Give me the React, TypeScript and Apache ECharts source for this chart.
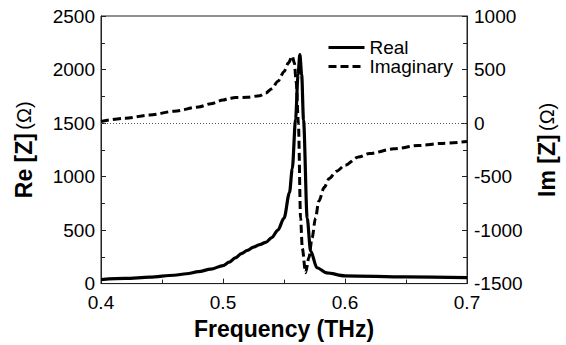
import React, { useEffect, useRef } from "react";
import * as echarts from "echarts";

const realFreq = [0.40, 0.42, 0.44, 0.46, 0.47, 0.48, 0.49, 0.50, 0.505, 0.51, 0.515, 0.52, 0.525, 0.53, 0.535, 0.54, 0.545, 0.55, 0.5545, 0.5568, 0.5595, 0.5615, 0.563, 0.5645, 0.566, 0.569, 0.5718, 0.577, 0.585, 0.60, 0.65, 0.70];
const realValues = [38, 48, 60, 78, 92, 112, 135, 168, 200, 240, 280, 310, 340, 365, 385, 430, 500, 611, 850, 1074, 1537, 1950, 2140, 1950, 1530, 611, 306, 148, 100, 72, 62, 56];

const imagFreq = [0.40, 0.42, 0.44, 0.46, 0.48, 0.49, 0.50, 0.505, 0.51, 0.52, 0.53, 0.535, 0.54, 0.545, 0.55, 0.5535, 0.5568, 0.5585, 0.560, 0.5618, 0.5636, 0.565, 0.5677, 0.5704, 0.573, 0.5758, 0.5785, 0.583, 0.587, 0.593, 0.60, 0.611, 0.62, 0.64, 0.66, 0.68, 0.70];
const imagValues = [15, 45, 75, 110, 150, 180, 215, 230, 238, 240, 255, 280, 320, 390, 480, 560, 625, 560, 380, 0, -890, -1170, -1398, -1259, -1074, -889, -731, -600, -519, -450, -395, -318, -285, -241, -210, -190, -173];

const xTicks = { min: 0.4, max: 0.7, interval: 0.1 };
const reTicks = { min: 0, max: 2500, interval: 500 };
const imTicks = { min: -1500, max: 1000, interval: 500 };

const FONT = "'Liberation Sans', Arial, sans-serif";
const AXIS_COLOR = "#222";

export default function App() {
  const ref = useRef<HTMLDivElement>(null);
  useEffect(() => {
    if (!ref.current) return;
    const chart = echarts.init(ref.current, undefined, { renderer: "svg" });
    const axisCommon = {
      axisLine: { show: true, lineStyle: { color: AXIS_COLOR, width: 1 } },
      axisTick: { show: true, inside: true, length: 5, lineStyle: { color: AXIS_COLOR } },
      minorTick: { show: true, splitNumber: 2, length: 4, lineStyle: { color: AXIS_COLOR } },
      splitLine: { show: false },
    };
    const plain = (v: number) => String(v);
    chart.setOption({
      animation: false,
      backgroundColor: "#fff",
      textStyle: { fontFamily: FONT },
      grid: {
        left: 101, right: 97, top: 16, bottom: 59,
        show: true, borderColor: AXIS_COLOR, borderWidth: 1,
      },
      legend: {
        orient: "vertical",
        left: 322,
        top: 33,
        itemWidth: 36,
        itemHeight: 12,
        itemGap: 0,
        itemStyle: { opacity: 0, borderWidth: 0 },
        lineStyle: { width: 3 },
        textStyle: { fontSize: 19, lineHeight: 17, color: "#000", fontFamily: FONT },
        data: ["Real", "Imaginary"],
      },
      xAxis: {
        type: "value",
        ...xTicks,
        ...axisCommon,
        axisLabel: {
          fontSize: 19, lineHeight: 18, color: "#000", margin: 10, fontFamily: FONT,
          formatter: (v: number) => v.toFixed(1),
        },
        name: "Frequency (THz)",
        nameLocation: "middle",
        nameGap: 32,
        nameTextStyle: { fontSize: 23, fontWeight: "bold", color: "#000", fontFamily: FONT },
      },
      yAxis: [
        {
          type: "value",
          position: "left",
          ...reTicks,
          ...axisCommon,
          axisLabel: { fontSize: 19, lineHeight: 18, color: "#000", margin: 6, fontFamily: FONT, formatter: plain },
          name: "{b|Re [Z]} {n|(Ω)}",
          nameLocation: "middle",
          nameRotate: 90,
          nameGap: 66,
          nameTextStyle: {
            fontFamily: FONT,
            rich: {
              b: { fontSize: 23, fontWeight: "bold", color: "#000", fontFamily: FONT },
              n: { fontSize: 20, color: "#000", fontFamily: FONT },
            },
          },
        },
        {
          type: "value",
          position: "right",
          ...imTicks,
          ...axisCommon,
          axisLabel: { fontSize: 19, lineHeight: 18, color: "#000", margin: 7, fontFamily: FONT, formatter: plain },
          name: "{b|Im [Z]} {n|(Ω)}",
          nameLocation: "middle",
          nameRotate: 90,
          nameGap: 68,
          nameTextStyle: {
            fontFamily: FONT,
            rich: {
              b: { fontSize: 23, fontWeight: "bold", color: "#000", fontFamily: FONT },
              n: { fontSize: 20, color: "#000", fontFamily: FONT },
            },
          },
        },
      ],
      series: [
        {
          name: "Real",
          type: "line",
          yAxisIndex: 0,
          showSymbol: false,
          symbol: "none",
          smooth: 0.3,
          smoothMonotone: "x",
          lineStyle: { color: "#000", width: 3.2 },
          itemStyle: { color: "#000" },
          data: realFreq.map((f, i) => [f, realValues[i]]),
          z: 3,
        },
        {
          name: "Imaginary",
          type: "line",
          yAxisIndex: 1,
          showSymbol: false,
          symbol: "none",
          smooth: 0.3,
          smoothMonotone: "x",
          lineStyle: { color: "#000", width: 3, type: [8, 4] },
          itemStyle: { color: "#000" },
          data: imagFreq.map((f, i) => [f, imagValues[i]]),
          markLine: {
            silent: true,
            symbol: "none",
            label: { show: false },
            lineStyle: { color: "#555", width: 1, type: [1, 2] },
            data: [{ yAxis: 0 }],
          },
          z: 2,
        },
      ],
    });
    return () => chart.dispose();
  }, []);
  return <div ref={ref} style={{ width: 566, height: 345, position: "absolute", left: 0, top: 0 }} />;
}
